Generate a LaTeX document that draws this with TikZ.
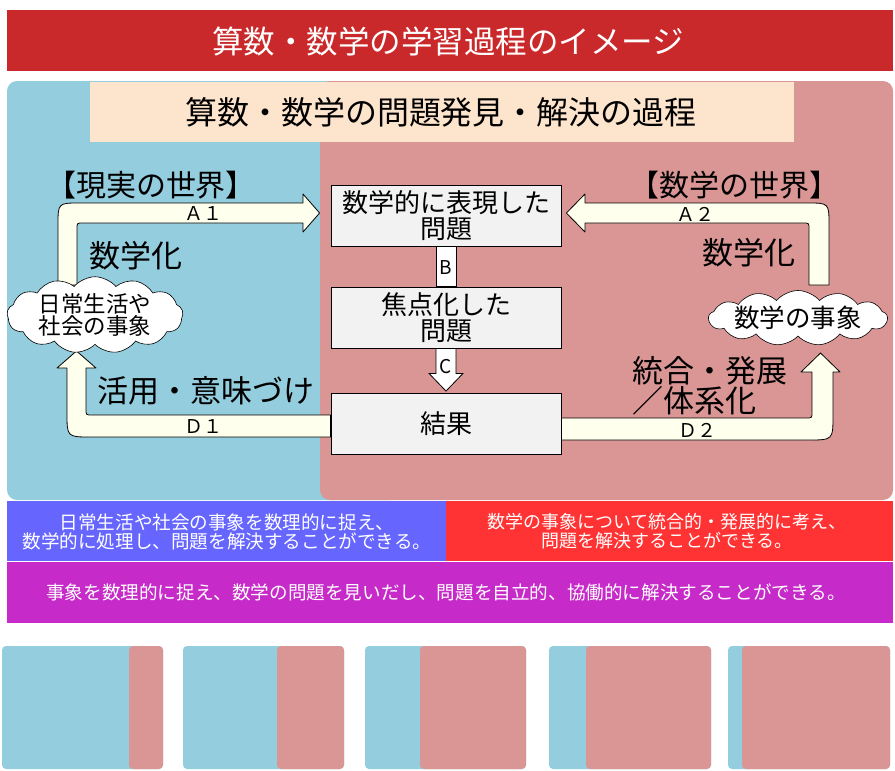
\documentclass[tikz,border=0pt]{standalone}
\usepackage{fontspec}
\setmainfont{Noto Sans CJK JP}
\usepackage{xcolor}
\usepackage{tikz}
\usetikzlibrary{calc}
\usetikzlibrary{shapes.symbols}
\pgfdeclarelayer{bglayer}
\pgfdeclarelayer{edgelayer}
\pgfdeclarelayer{nodelayer}
\pgfsetlayers{bglayer,edgelayer,nodelayer,main}
\definecolor{titlered}{HTML}{C9292A}
\definecolor{realblue}{HTML}{94CDDE}
\definecolor{mathpink}{HTML}{D99694}
\definecolor{peach}{HTML}{FDE4CC}
\definecolor{arrowivory}{HTML}{FFFFEE}
\definecolor{boxgrey}{HTML}{F2F2F2}
\definecolor{goalblue}{HTML}{6666FF}
\definecolor{goalred}{HTML}{FF3333}
\definecolor{goalpurple}{HTML}{C62AC8}
\tikzset{
    none/.style = {inner sep=0pt},
    titletext/.style = {inner sep=0pt, text=white, font=\fontsize{31.5pt}{33pt}\selectfont},
    headtext/.style = {inner sep=0pt, font=\fontsize{32pt}{34pt}\selectfont},
    bigtext/.style = {inner sep=0pt, align=left, font=\fontsize{31pt}{27pt}\selectfont},
    worldtext/.style = {inner sep=0pt, font=\fontsize{30pt}{31pt}\selectfont},
    arrowtext/.style = {inner sep=0pt, font=\fontsize{19pt}{20pt}\selectfont},
    goaltext/.style = {inner sep=0pt, text=white, align=center, font=\fontsize{18.6pt}{19.5pt}\selectfont},
    procbox/.style = {draw, line width=0.8pt, fill=boxgrey, minimum width=230pt, minimum height=61pt,
        inner sep=0pt, align=center, font=\fontsize{26pt}{26pt}\selectfont},
    cloudbox/.style = {cloud, cloud puffs=13, cloud puff arc=100, cloud ignores aspect, draw, fill=white,
        line width=0.6pt, inner sep=0pt, align=center},
    fatarrow/.style = {draw, line width=0.8pt, fill=arrowivory, line join=round},
    thinarrow/.style = {draw, line width=0.8pt, fill=white}
}

\begin{document}
\begin{tikzpicture}[x=1pt, y=-1pt]
    \useasboundingbox (0, 0) rectangle (895, 771);
    \begin{pgfonlayer}{bglayer}
        % title bar and the two worlds
        \fill [titlered] (7, 10) rectangle (893, 71);
        \fill [realblue, rounded corners=10pt] (7, 81) rectangle (400, 500);
        \fill [mathpink, rounded corners=10pt] (320, 81) rectangle (893, 500);
        \fill [peach] (90, 82) rectangle (794, 142);
        % goals
        \fill [goalblue] (7, 501) rectangle (446, 561);
        \fill [goalred] (446, 501) rectangle (893, 561);
        \fill [goalpurple] (7, 562) rectangle (893, 623);
        % small panels
        \foreach \l/\m/\r in {2/129/163, 183/277/344, 365/420/526, 549/586/711, 728/742/890} {
            \fill [realblue, rounded corners=4pt] (\l, 646) rectangle (\r, 769);
            \fill [mathpink, rounded corners=4pt] (\m, 646) rectangle (\r, 769);
        }
    \end{pgfonlayer}
    \begin{pgfonlayer}{nodelayer}
        \node [style=titletext] (0) at (448, 41) {算数・数学の学習過程のイメージ};
        \node [style=headtext] (1) at (441, 112) {算数・数学の問題発見・解決の過程};
        \node [style=worldtext] (2) at (151, 185) {【現実の世界】};
        \node [style=worldtext] (3) at (734, 185) {【数学の世界】};
        \node [style=procbox] (4) at (446, 215.5) {数学的に表現した\\問題};
        \node [style=procbox] (5) at (446, 317.5) {焦点化した\\問題};
        \node [style=procbox] (6) at (446, 424) {結果};
        \node [style=cloudbox, minimum width=176pt, minimum height=58pt,
            font=\fontsize{22.5pt}{22pt}\selectfont] (7) at (95, 315) {日常生活や\\社会の事象};
        \node [style=cloudbox, minimum width=173pt, minimum height=55pt,
            font=\fontsize{25.5pt}{26pt}\selectfont] (8) at (798, 318) {数学の事象};
        \node [style=arrowtext] (9) at (446, 268) {B};
        \node [style=arrowtext] (10) at (446, 367) {C};
        \node [style=arrowtext] (11) at (203, 214) {Ａ１};
        \node [style=arrowtext] (12) at (695, 214) {Ａ２};
        \node [style=arrowtext] (13) at (203, 427) {Ｄ１};
        \node [style=arrowtext] (14) at (697, 430) {Ｄ２};
        \node [style=bigtext] (15) at (136, 256) {数学化};
        \node [style=bigtext] (16) at (749, 253) {数学化};
        \node [style=bigtext] (17) at (206, 391) {活用・意味づけ};
        \node [style=bigtext, anchor=west] (18) at (632, 386) {統合・発展\\／体系化};
        \node [style=goaltext] (19) at (227, 532) {日常生活や社会の事象を数理的に捉え、\\数学的に処理し、問題を解決することができる。};
        \node [style=goaltext, font=\fontsize{18pt}{19pt}\selectfont] (20) at (667, 531) {数学の事象について統合的・発展的に考え、\\問題を解決することができる。};
        \node [style=goaltext] (21) at (446, 592) {事象を数理的に捉え、数学の問題を見いだし、問題を自立的、協働的に解決することができる。};
    \end{pgfonlayer}
    \begin{pgfonlayer}{edgelayer}
        % A1: real world to the expressed problem
        \draw [style=fatarrow] (58, 285) -- (58, 225) .. controls (58, 203) .. (80, 203) -- (303, 203)
            -- (303, 194) -- ($(4.west)+(-11, -2.5)$) -- (303, 232) -- (303, 223)
            -- (83, 223) .. controls (77, 223) .. (77, 229) -- (77, 285) -- cycle;
        % A2: math world to the expressed problem
        \draw [style=fatarrow] (809, 285) -- (809, 229) .. controls (809, 223) .. (803, 223) -- (585, 223)
            -- (585, 232) -- ($(4.east)+(5, -2.5)$) -- (585, 194) -- (585, 203)
            -- (807, 203) .. controls (829, 203) .. (829, 225) -- (829, 285) -- cycle;
        % B and C
        \draw [style=thinarrow] ($(4.south)+(-10, 0)$) rectangle ($(5.north)+(10, 0)$);
        \draw [style=thinarrow] ($(5.south)+(-10, 0)$) -- ($(5.south)+(-10, 25)$) -- ($(5.south)+(-17, 25)$)
            -- ($(6.north)+(0, -2)$) -- ($(5.south)+(17, 25)$) -- ($(5.south)+(10, 25)$)
            -- ($(5.south)+(10, 0)$) -- cycle;
        % D1: back to the real world
        \draw [style=fatarrow] ($(6.west)+(0, -9)$) -- (92, 415) .. controls (86, 415) .. (86, 409) -- (86, 368)
            -- (96, 368) -- (76.5, 351) -- (57, 368) -- (67, 368)
            -- (67, 413) .. controls (67, 437) .. (91, 437) -- ($(6.west)+(0, 13)$) -- cycle;
        % D2: on to the math world
        \draw [style=fatarrow] ($(6.east)+(0, -6)$) -- (806, 418) .. controls (812, 418) .. (812, 412) -- (812, 372)
            -- (801, 372) -- (820.5, 353) -- (840, 372) -- (833, 372)
            -- (833, 415) .. controls (833, 440) .. (808, 440) -- ($(6.east)+(0, 16)$) -- cycle;
    \end{pgfonlayer}
\end{tikzpicture}
\end{document}
